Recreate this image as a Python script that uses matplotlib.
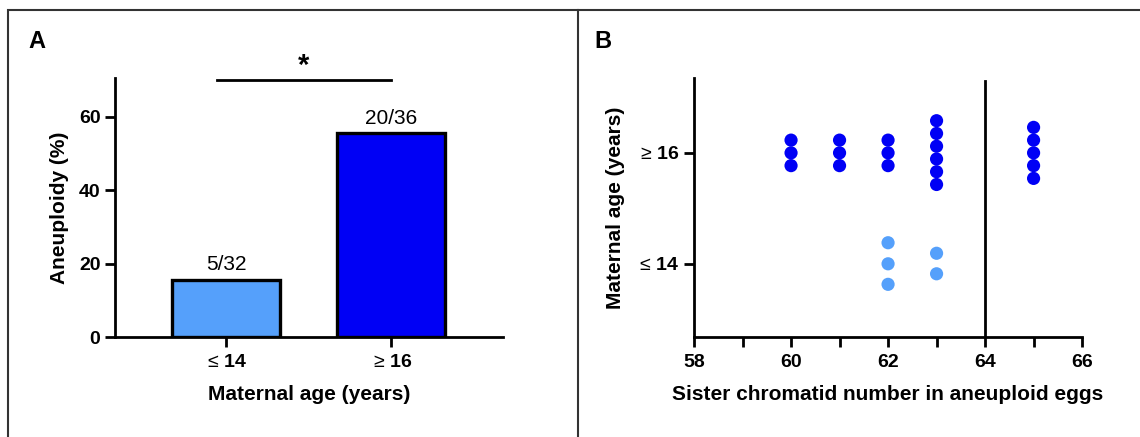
import matplotlib.pyplot as plt
from matplotlib.lines import Line2D
from matplotlib.patches import Rectangle

plt.rcParams['font.family'] = ['Liberation Sans', 'DejaVu Sans']
plt.rcParams['mathtext.fontset'] = 'custom'
plt.rcParams['mathtext.rm'] = 'Liberation Sans'
plt.rcParams['mathtext.it'] = 'Liberation Sans:italic'
plt.rcParams['mathtext.bf'] = 'Liberation Sans:bold'

# panel A data
age_groups = ['$\\leq\\,$14', '$\\geq\\,$16']
aneuploid = [5, 20]
total = [32, 36]
pct = [100 * a / t for a, t in zip(aneuploid, total)]
bar_colors = ['#55a0fb', '#0000f5']

# panel B data (chromatid number, plotted age position)
x_old = [60, 60, 60, 61, 61, 61, 62, 62, 62, 63, 63, 63, 63, 63, 63, 65, 65, 65, 65, 65]
y_old = [16.23, 16.0, 15.77, 16.23, 16.0, 15.77, 16.23, 16.0, 15.77,
         16.58, 16.35, 16.12, 15.89, 15.66, 15.43, 16.46, 16.23, 16.0, 15.77, 15.54]
x_young = [62, 62, 62, 63, 63]
y_young = [14.38, 14.0, 13.63, 14.19, 13.82]
age_ticks = [14, 16]

fig = plt.figure(figsize=(11.4, 4.37), dpi=100)

# outer frame and divider
fig.add_artist(Rectangle((8 / 1140, -0.05), 1.1, 1.05 - 10 / 437, transform=fig.transFigure,
                         fill=False, edgecolor='#333333', linewidth=1.5))
fig.add_artist(Line2D([578 / 1140, 578 / 1140], [0, 1 - 10 / 437], transform=fig.transFigure,
                      color='#333333', linewidth=1.5))

lw = 2.0
tick_fs = 14
label_fs = 15

# ---- panel A
ax = fig.add_axes([0.1009, 0.2288, 0.3404, 0.5927])
ax.bar([0, 1], pct, width=0.655, color=bar_colors, edgecolor='black', linewidth=2.4, zorder=3)
for i in range(2):
    ax.text(i, pct[i] + 1.5, f'{aneuploid[i]}/{total[i]}', ha='center', va='bottom', fontsize=15)
ax.set_xlim(-0.673, 1.679)
ax.set_ylim(0, 70.6)
ax.set_yticks([0, 20, 40, 60])
ax.set_xticks([0, 1])
ax.set_xticklabels(age_groups)
ax.plot([-0.055, 1.0], [70.1, 70.1], color='black', linewidth=lw, clip_on=False)
ax.text(0.47, 70.0, '*', ha='center', va='bottom', fontsize=21, fontweight='bold')
ax.set_ylabel('Aneuploidy (%)', fontsize=label_fs, fontweight='bold', labelpad=7)
ax.set_xlabel('Maternal age (years)', fontsize=label_fs, fontweight='bold', labelpad=10)
ax.text(-0.222, 1.14, 'A', transform=ax.transAxes, fontsize=17, fontweight='bold', va='center')

# ---- panel B
bx = fig.add_axes([0.6088, 0.2288, 0.3404, 0.5927])
bx.scatter(x_old, y_old, s=90, color='#0000f5', edgecolors='none', zorder=3)
bx.scatter(x_young, y_young, s=90, color='#55a0fb', edgecolors='none', zorder=3)
bx.axvline(64, ymax=0.99, color='black', linewidth=lw)
bx.set_xlim(58, 66)
bx.set_ylim(12.68, 17.35)
bx.set_xticks([58, 60, 62, 64, 66])
bx.set_xticks([59, 61, 63, 65], minor=True)
bx.set_yticks(age_ticks)
bx.set_yticklabels(age_groups)
bx.set_xlabel('Sister chromatid number in aneuploid eggs', fontsize=label_fs, fontweight='bold', labelpad=10)
bx.set_ylabel('Maternal age (years)', fontsize=label_fs, fontweight='bold', labelpad=8)
bx.text(-0.258, 1.14, 'B', transform=bx.transAxes, fontsize=17, fontweight='bold', va='center')

for a in (ax, bx):
    a.spines['top'].set_visible(False)
    a.spines['right'].set_visible(False)
    a.spines['left'].set_linewidth(lw)
    a.spines['bottom'].set_linewidth(lw)
    a.tick_params(which='both', width=lw, length=7, labelsize=tick_fs)
    a.tick_params(axis='x', pad=5)
    for t in a.get_xticklabels() + a.get_yticklabels():
        t.set_fontweight('bold')

fig.savefig('out.png', dpi=100)
